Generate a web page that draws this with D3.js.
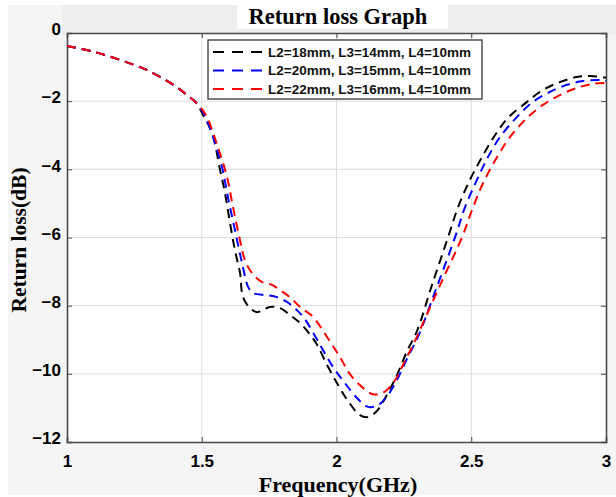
<!DOCTYPE html>
<html><head><meta charset="utf-8">
<script src="https://cdn.jsdelivr.net/npm/d3@7"></script>
<style>body{margin:0;background:#fff}svg{display:block}</style>
</head><body>
<svg id="chart" width="616" height="497"></svg>
<script>
const seriesNames = ["L2=18mm, L3=14mm, L4=10mm","L2=20mm, L3=15mm, L4=10mm","L2=22mm, L3=16mm, L4=10mm"];
const seriesColors = ["#000000","#0000ff","#ff0000"];
const xTicks = [1,1.5,2,2.5,3];
const yTicks = [0,-2,-4,-6,-8,-10,-12];

const commonF = [1.0,1.1,1.2,1.3,1.4,1.45,1.48];
const commonRL = [-0.38,-0.55,-0.8,-1.1,-1.55,-1.85,-2.05];

const freqA = [1.505,1.538,1.568,1.586,1.605,1.623,1.642,1.653,1.679,1.705,1.753,1.790,1.827,1.865,1.902,1.928,1.965,2.006,2.043,2.087,2.117,2.150,2.187,2.224,2.262,2.299,2.354,2.414,2.451,2.495,2.540,2.588,2.636,2.707,2.766,2.829,2.892,2.941,3.0];
const rlA   = [-2.41,-2.93,-4.02,-4.69,-5.58,-6.37,-7.04,-7.75,-8.07,-8.19,-8.04,-8.07,-8.27,-8.51,-8.85,-9.15,-9.74,-10.33,-10.80,-11.21,-11.27,-11.09,-10.62,-10.04,-9.33,-8.74,-7.4,-5.99,-5.11,-4.31,-3.64,-3.0,-2.49,-2.02,-1.67,-1.44,-1.29,-1.26,-1.31];

const freqB = [1.51,1.542,1.575,1.597,1.623,1.653,1.672,1.690,1.742,1.779,1.816,1.853,1.883,1.939,1.987,2.031,2.076,2.117,2.154,2.191,2.228,2.265,2.302,2.37,2.440,2.477,2.521,2.562,2.607,2.670,2.729,2.792,2.855,2.915,2.978,3.0];
const rlB   = [-2.4,-3.05,-3.93,-4.81,-5.78,-6.87,-7.45,-7.63,-7.69,-7.75,-7.89,-8.13,-8.40,-9.15,-9.80,-10.27,-10.71,-10.97,-10.92,-10.62,-10.12,-9.50,-8.92,-7.5,-5.99,-5.11,-4.31,-3.64,-3.05,-2.46,-2.02,-1.73,-1.52,-1.41,-1.38,-1.41];

const freqC = [1.515,1.560,1.594,1.616,1.642,1.660,1.686,1.724,1.761,1.790,1.827,1.865,1.913,1.965,2.013,2.050,2.095,2.135,2.169,2.198,2.224,2.254,2.291,2.321,2.39,2.466,2.503,2.544,2.596,2.644,2.707,2.766,2.829,2.892,2.952,3.0];
const rlC   = [-2.4,-3.35,-4.23,-5.11,-6.08,-6.66,-7.04,-7.31,-7.39,-7.54,-7.75,-8.04,-8.33,-8.92,-9.51,-10.01,-10.39,-10.60,-10.57,-10.39,-10.10,-9.62,-9.04,-8.51,-7.3,-5.99,-5.19,-4.40,-3.64,-3.05,-2.49,-2.11,-1.82,-1.61,-1.49,-1.47];

const seriesF = [freqA,freqB,freqC];
const seriesRL = [rlA,rlB,rlC];

const svg = d3.select("#chart");
const L=67, R=606, T=33, B=442;
svg.append("rect").attr("x",8).attr("y",5).attr("width",608).attr("height",490).attr("fill","#f5f5f5");
svg.append("rect").attr("x",62).attr("y",5).attr("width",554).attr("height",30).attr("fill","#eeeeee");
svg.append("rect").attr("x",237).attr("y",3).attr("width",211).attr("height",26).attr("fill","#ffffff");
svg.append("rect").attr("x",L).attr("y",T).attr("width",R-L).attr("height",B-T).attr("fill","#fff");

const x = d3.scaleLinear().domain([1,3]).range([L,R]);
const y = d3.scaleLinear().domain([-12,0]).range([B,T]);

svg.append("g").selectAll("line").data(xTicks.slice(1,-1)).join("line")
  .attr("x1",d=>x(d)).attr("x2",d=>x(d)).attr("y1",T).attr("y2",B)
  .attr("stroke","#dcdcdc").attr("stroke-width",1);
svg.append("g").selectAll("line").data(yTicks.slice(1,-1)).join("line")
  .attr("y1",d=>y(d)).attr("y2",d=>y(d)).attr("x1",L).attr("x2",R)
  .attr("stroke","#dcdcdc").attr("stroke-width",1);

const xAxis = svg.append("g").attr("transform",`translate(0,${B})`)
  .call(d3.axisBottom(x).tickValues(xTicks).tickSize(-5).tickPadding(13).tickFormat(d3.format("")));
const xAxisTop = svg.append("g").attr("transform",`translate(0,${T})`)
  .call(d3.axisTop(x).tickValues(xTicks).tickSize(-5).tickFormat(""));
const yAxis = svg.append("g").attr("transform",`translate(${L},0)`)
  .call(d3.axisLeft(y).tickValues(yTicks).tickSize(-5).tickPadding(6).tickFormat(d3.format("")));
const yAxisR = svg.append("g").attr("transform",`translate(${R},0)`)
  .call(d3.axisRight(y).tickValues(yTicks).tickSize(-5).tickFormat(""));
[xAxis,xAxisTop,yAxis,yAxisR].forEach(g=>{
  g.select(".domain").attr("stroke","#4a4a4a").attr("stroke-width",1.6);
  g.selectAll(".tick line").attr("stroke","#4a4a4a");
  g.selectAll("text").attr("font-family","Liberation Sans, Arial, sans-serif")
   .attr("font-weight","bold").attr("font-size",17).attr("fill","#000");
});
yAxis.selectAll("text").attr("dy","0.1em");

svg.append("defs").append("clipPath").attr("id","clip").append("rect")
  .attr("x",L).attr("y",T).attr("width",R-L).attr("height",B-T);
const line = d3.line().x(d=>x(d[0])).y(d=>y(d[1])).curve(d3.curveCatmullRom.alpha(0.5));
seriesF.forEach((fs,i)=>{
  const pts = commonF.map((f,j)=>[f,commonRL[j]]).concat(fs.map((f,j)=>[f,seriesRL[i][j]]));
  svg.append("path").datum(pts).attr("d",line)
    .attr("fill","none").attr("stroke",seriesColors[i]).attr("stroke-width",2)
    .attr("stroke-dasharray","9,6").attr("clip-path","url(#clip)");
});

const lg = svg.append("g");
lg.append("rect").attr("x",208).attr("y",40).attr("width",274).attr("height",59)
  .attr("fill","#fff").attr("stroke","#333").attr("stroke-width",1.3);
seriesNames.forEach((n,i)=>{
  const yy = 52 + i*18.5;
  lg.append("line").attr("x1",213).attr("x2",266).attr("y1",yy).attr("y2",yy)
    .attr("stroke",seriesColors[i]).attr("stroke-width",2).attr("stroke-dasharray","11,8");
  lg.append("text").attr("x",268).attr("y",yy).attr("dy","0.36em")
    .attr("font-family","Liberation Sans, Arial, sans-serif").attr("font-size",13.5)
    .attr("font-weight","bold").attr("fill","#111").text(n);
});

svg.append("text").attr("x",338).attr("y",24).attr("text-anchor","middle")
  .attr("font-family","Liberation Serif, Times New Roman, serif").attr("font-weight","bold")
  .attr("font-size",22.5).text("Return loss Graph");
svg.append("text").attr("x",338).attr("y",492).attr("text-anchor","middle")
  .attr("font-family","Liberation Serif, Times New Roman, serif").attr("font-weight","bold")
  .attr("font-size",22).text("Frequency(GHz)");
svg.append("text").attr("transform","translate(26,240) rotate(-90)").attr("text-anchor","middle")
  .attr("font-family","Liberation Serif, Times New Roman, serif").attr("font-weight","bold")
  .attr("font-size",21.5).text("Return loss(dB)");
</script>
</body></html>
